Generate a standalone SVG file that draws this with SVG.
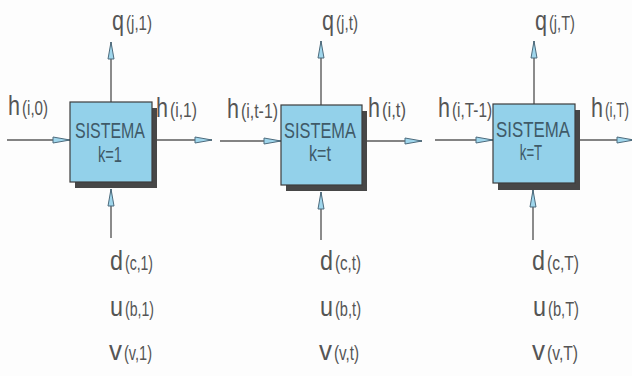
<svg xmlns="http://www.w3.org/2000/svg" width="632" height="376" viewBox="0 0 632 376">
<style>
.bg{fill:#fdfdfd}
.shadow{fill:#474747}
.box{fill:#93d1ea;stroke:#3c3c3c;stroke-width:1.2}
.bt{font-family:"Liberation Sans",Arial,sans-serif;font-size:22px;fill:#3f5a68;text-anchor:middle}
.m,.s{font-family:"Liberation Sans",Arial,sans-serif;fill:#555}
.m{font-size:27px}
.s{font-size:20px}
.c{stroke:#5a5a5a;stroke-width:1.4;fill:none;marker-end:url(#ah)}
</style>
<defs>
<marker id="ah" markerUnits="userSpaceOnUse" markerWidth="20" markerHeight="10" refX="18" refY="4" orient="auto" viewBox="0 0 20 8">
<path d="M1,1 L18,4 L1,7 Z" fill="#9fd6ec" stroke="#4d6b7d" stroke-width="1"/>
</marker>
</defs>
<rect class="bg" x="0" y="0" width="632" height="376"/>
<g id="connectors">
<path class="c" d="M7,140 H70"/>
<path class="c" d="M152,140 H212"/>
<path class="c" d="M111,102 V42"/>
<path class="c" d="M111,238 V189"/>
<path class="c" d="M220,141 H281"/>
<path class="c" d="M362,141 H422"/>
<path class="c" d="M321,105 V41"/>
<path class="c" d="M321,240 V192"/>
<path class="c" d="M435,140 H493"/>
<path class="c" d="M575,140 H634"/>
<path class="c" d="M534,104 V41"/>
<path class="c" d="M533,240 V190"/>
</g>
<g id="box1">
<rect class="shadow" x="75" y="108" width="82" height="80"/>
<rect class="box" x="70" y="102" width="82" height="80"/>
<text class="bt" transform="translate(110,138) scale(0.725,1)">SISTEMA</text>
<text class="bt" transform="translate(110,162) scale(0.667,1)">k=1</text>
</g>
<g id="box2">
<rect class="shadow" x="286" y="111" width="81" height="80"/>
<rect class="box" x="281" y="105" width="81" height="80"/>
<text class="bt" transform="translate(320,138) scale(0.745,1)">SISTEMA</text>
<text class="bt" transform="translate(320,161) scale(0.73,1)">k=t</text>
</g>
<g id="box3">
<rect class="shadow" x="498" y="110" width="82" height="80"/>
<rect class="box" x="493" y="104" width="82" height="79"/>
<text class="bt" transform="translate(533,137) scale(0.766,1)">SISTEMA</text>
<text class="bt" transform="translate(531,160) scale(0.6,1)">k=T</text>
</g>
<g id="label-q1"><text class="m" x="112" y="30" textLength="12" lengthAdjust="spacingAndGlyphs">q</text><text class="s" x="126" y="30" textLength="26" lengthAdjust="spacingAndGlyphs">(j,1)</text></g>
<g id="label-qt"><text class="m" x="322" y="30" textLength="12" lengthAdjust="spacingAndGlyphs">q</text><text class="s" x="336" y="30" textLength="22" lengthAdjust="spacingAndGlyphs">(j,t)</text></g>
<g id="label-qT"><text class="m" x="535" y="30" textLength="12" lengthAdjust="spacingAndGlyphs">q</text><text class="s" x="549" y="30" textLength="26" lengthAdjust="spacingAndGlyphs">(j,T)</text></g>
<g id="label-h0"><text class="m" x="8" y="115" textLength="12" lengthAdjust="spacingAndGlyphs">h</text><text class="s" x="22" y="115" textLength="26" lengthAdjust="spacingAndGlyphs">(i,0)</text></g>
<g id="label-h1"><text class="m" x="156" y="117" textLength="12" lengthAdjust="spacingAndGlyphs">h</text><text class="s" x="170" y="117" textLength="27" lengthAdjust="spacingAndGlyphs">(i,1)</text></g>
<g id="label-ht1"><text class="m" x="227" y="118" textLength="12" lengthAdjust="spacingAndGlyphs">h</text><text class="s" x="241" y="118" textLength="37" lengthAdjust="spacingAndGlyphs">(i,t-1)</text></g>
<g id="label-ht"><text class="m" x="368" y="117" textLength="12" lengthAdjust="spacingAndGlyphs">h</text><text class="s" x="382" y="117" textLength="24" lengthAdjust="spacingAndGlyphs">(i,t)</text></g>
<g id="label-hT1"><text class="m" x="438" y="117" textLength="12" lengthAdjust="spacingAndGlyphs">h</text><text class="s" x="452" y="117" textLength="40" lengthAdjust="spacingAndGlyphs">(i,T-1)</text></g>
<g id="label-hT"><text class="m" x="591" y="117" textLength="12" lengthAdjust="spacingAndGlyphs">h</text><text class="s" transform="translate(605,117) scale(0.676,1)">(i,T)</text></g>
<g id="label-d1"><text class="m" x="110" y="270" textLength="13" lengthAdjust="spacingAndGlyphs">d</text><text class="s" x="125" y="270" textLength="28" lengthAdjust="spacingAndGlyphs">(c,1)</text></g>
<g id="label-u1"><text class="m" x="110" y="316" textLength="13" lengthAdjust="spacingAndGlyphs">u</text><text class="s" x="125" y="316" textLength="29" lengthAdjust="spacingAndGlyphs">(b,1)</text></g>
<g id="label-v1"><text class="m" x="109" y="360" textLength="13" lengthAdjust="spacingAndGlyphs">v</text><text class="s" x="124" y="360" textLength="28" lengthAdjust="spacingAndGlyphs">(v,1)</text></g>
<g id="label-dt"><text class="m" x="320" y="270" textLength="13" lengthAdjust="spacingAndGlyphs">d</text><text class="s" x="335" y="270" textLength="26" lengthAdjust="spacingAndGlyphs">(c,t)</text></g>
<g id="label-ut"><text class="m" x="320" y="316" textLength="13" lengthAdjust="spacingAndGlyphs">u</text><text class="s" x="335" y="316" textLength="26" lengthAdjust="spacingAndGlyphs">(b,t)</text></g>
<g id="label-vt"><text class="m" x="319" y="360" textLength="13" lengthAdjust="spacingAndGlyphs">v</text><text class="s" x="334" y="360" textLength="25" lengthAdjust="spacingAndGlyphs">(v,t)</text></g>
<g id="label-dT"><text class="m" x="532" y="270" textLength="13" lengthAdjust="spacingAndGlyphs">d</text><text class="s" x="547" y="270" textLength="32" lengthAdjust="spacingAndGlyphs">(c,T)</text></g>
<g id="label-uT"><text class="m" x="533" y="316" textLength="13" lengthAdjust="spacingAndGlyphs">u</text><text class="s" x="548" y="316" textLength="31" lengthAdjust="spacingAndGlyphs">(b,T)</text></g>
<g id="label-vT"><text class="m" x="532" y="360" textLength="13" lengthAdjust="spacingAndGlyphs">v</text><text class="s" x="547" y="360" textLength="31" lengthAdjust="spacingAndGlyphs">(v,T)</text></g>
</svg>
